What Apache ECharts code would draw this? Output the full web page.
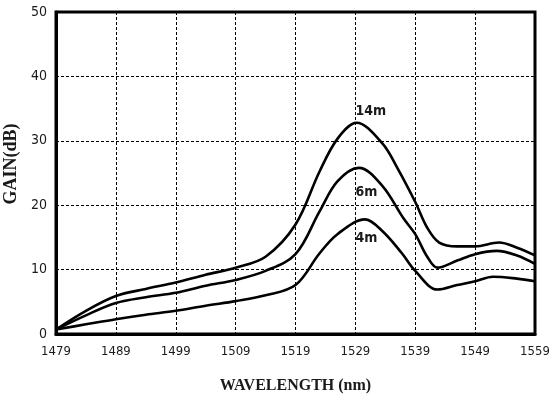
<!DOCTYPE html>
<html>
<head>
<meta charset="utf-8">
<script src="https://cdn.jsdelivr.net/npm/echarts@6/dist/echarts.min.js"></script>
<style>html,body{margin:0;padding:0;background:#fff}#c{width:549px;height:394px}</style>
</head>
<body>
<div id="c"></div>
<script>
// Wavelength (nm) and gain (dB)
var X_START = 1479, X_END = 1559, X_STEP = 10;
var xTicks = [1479, 1489, 1499, 1509, 1519, 1529, 1539, 1549, 1559];
var yTicks = [0, 10, 20, 30, 40, 50];

var wl14 = [1479, 1484, 1489, 1494, 1499, 1504, 1509, 1514, 1519, 1523, 1526, 1529.2, 1533.5, 1536, 1539, 1541, 1543, 1546, 1549, 1553, 1556, 1559];
var gain14 = [0.7, 3.6, 5.9, 7.0, 8.0, 9.2, 10.3, 12.0, 17.0, 25.2, 30.3, 32.8, 29.6, 25.8, 20.5, 16.5, 14.2, 13.6, 13.6, 14.2, 13.4, 12.2];

var wl6 = [1479, 1484, 1489, 1494, 1499, 1504, 1509, 1514, 1519, 1523, 1526, 1529.6, 1533.5, 1537, 1539, 1541, 1542.7, 1546, 1549, 1552.6, 1556, 1559];
var gain6 = [0.7, 2.9, 4.8, 5.7, 6.4, 7.5, 8.4, 9.8, 12.4, 19.0, 23.7, 25.8, 23.0, 18.0, 15.5, 12.0, 10.3, 11.4, 12.4, 12.9, 12.2, 10.9];

var wl4 = [1479, 1484, 1489, 1494, 1499, 1504, 1509, 1514, 1519, 1523, 1526, 1530.6, 1533.5, 1536.8, 1539, 1542.7, 1546, 1549, 1552, 1556, 1559];
var gain4 = [0.7, 1.5, 2.3, 3.0, 3.6, 4.4, 5.1, 6.0, 7.6, 12.5, 15.5, 17.8, 16.0, 12.5, 9.8, 6.9, 7.6, 8.2, 8.9, 8.6, 8.2];

var seriesNames = ['14m', '6m', '4m'];
var labelWl = [1529, 1529, 1529];
var labelGain = [34.6, 22.0, 14.8];

function pairs(xs, ys) {
  return xs.map(function (x, i) { return [x - X_START, ys[i]]; });
}
var allData = [pairs(wl14, gain14), pairs(wl6, gain6), pairs(wl4, gain4)];

var chart = echarts.init(document.getElementById('c'), null, {renderer: 'canvas'});
var txt = '#1a1a1a';
var narrow = '"DejaVu Sans Condensed", "Liberation Sans Narrow", "Arial Narrow", "Liberation Sans", sans-serif';
var series = allData.map(function (d, i) {
  return {
    name: seriesNames[i],
    type: 'line',
    data: d,
    smooth: 0.35,
    symbol: 'none',
    lineStyle: {color: '#000', width: 2.6},
    markPoint: {
      symbol: 'circle', symbolSize: 0,
      data: [{coord: [labelWl[i] - X_START, labelGain[i]], value: seriesNames[i]}],
      label: {
        show: true, position: 'right', distance: 0,
        formatter: seriesNames[i],
        fontFamily: narrow,
        fontWeight: 'bold', fontSize: 14, color: txt
      }
    }
  };
});

chart.setOption({
  animation: false,
  backgroundColor: '#fff',
  grid: {left: 56, right: 14, top: 12, bottom: 60, show: true, borderColor: '#000', borderWidth: 3, outerBoundsMode: 'none', containLabel: false},
  xAxis: {
    type: 'value', min: 0, max: X_END - X_START, interval: X_STEP,
    name: 'WAVELENGTH (nm)', nameLocation: 'middle', nameGap: 44,
    nameTextStyle: {fontFamily: '"Liberation Serif", "Times New Roman", serif', fontWeight: 'bold', fontSize: 16, color: txt},
    axisLine: {show: true, lineStyle: {color: '#000', width: 3}},
    axisTick: {show: false},
    axisLabel: {
      margin: 11, fontSize: 13, color: txt,
      fontFamily: narrow,
      formatter: function (v) { return String(xTicks[Math.round(v / X_STEP)]); }
    },
    splitLine: {show: true, lineStyle: {color: '#000', width: 1, type: [3, 2]}}
  },
  yAxis: {
    type: 'value', min: 0, max: 50, interval: 10,
    name: 'GAIN(dB)', nameLocation: 'middle', nameGap: 30, nameRotate: 90,
    nameTextStyle: {fontFamily: '"Liberation Serif", "Times New Roman", serif', fontWeight: 'bold', fontSize: 18, color: txt, padding: [0, 0, 0, 18]},
    axisLine: {show: true, lineStyle: {color: '#000', width: 3}},
    axisTick: {show: false},
    axisLabel: {
      margin: 9, fontSize: 14, color: txt,
      fontFamily: narrow,
      formatter: function (v) { return String(yTicks[Math.round(v / 10)]); }
    },
    splitLine: {show: true, lineStyle: {color: '#000', width: 1, type: [3, 2]}}
  },
  series: series
});
</script>
</body>
</html>
